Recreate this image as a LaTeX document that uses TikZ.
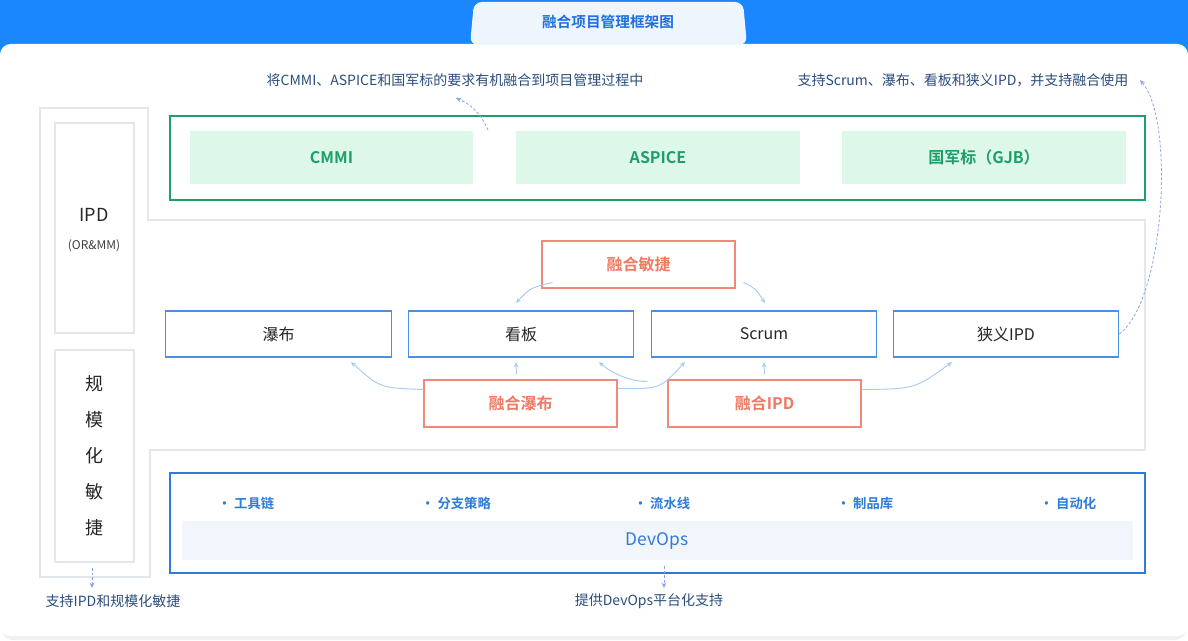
\documentclass[tikz,border=0pt]{standalone}
\usepackage{fontspec}
\setmainfont{Noto Sans CJK SC}
\newfontfamily\cjkb{Noto Sans CJK SC Bold}
\usetikzlibrary{arrows.meta}
\definecolor{bandblue}{HTML}{1A86FF}
\definecolor{ttl}{HTML}{1F6FE0}
\definecolor{gbr}{HTML}{E3E6EA}
\definecolor{grn}{HTML}{1E9E6A}
\definecolor{grnf}{HTML}{DDF8E9}
\definecolor{bbr}{HTML}{4A90E2}
\definecolor{sal}{HTML}{F08A78}
\definecolor{salt}{HTML}{EE7A62}
\definecolor{arr}{HTML}{A9CBF0}
\definecolor{ann}{HTML}{2B4D7C}
\definecolor{dvb}{HTML}{2F7BD8}
\definecolor{dvf}{HTML}{F2F6FC}
\tikzset{
 x=0.75pt,y=-0.75pt,
 gbox/.style={draw=gbr,line width=0.8pt},
 gcell/.style={fill=grnf,text=grn,font=\cjkb\fontsize{12}{14}\selectfont},
 bnode/.style={draw=bbr,line width=0.9pt,fill=white,text=black!85,font=\fontsize{12}{14}\selectfont},
 snode/.style={draw=sal,line width=0.8pt,fill=white,text=salt,font=\cjkb\fontsize{12}{14}\selectfont},
 flow/.style={draw=arr,line width=0.7pt,-{Stealth[length=4pt,width=3.5pt]}},
 dflow/.style={draw=arr!80!blue,line width=0.6pt,dashed,dash pattern=on 2pt off 1.5pt,-{Stealth[length=4pt,width=3.5pt,open]}},
 anno/.style={text=ann,font=\fontsize{10.5}{12}\selectfont},
 bul/.style={text=dvb,font=\cjkb\fontsize{10}{12}\selectfont},
}
\begin{document}
\begin{tikzpicture}
\useasboundingbox (0,0) rectangle (1188,641);
\fill[bandblue] (0,0) rectangle (1188,60);
\fill[gbr!60] (2,50) [rounded corners=8pt] rectangle (1186,640);
\fill[white] [rounded corners=8pt] (0,44) rectangle (1188,636);
\fill[white!93!ttl] [rounded corners=6pt] (470,45) -- (474,2) -- (743,2) -- (747,45) -- cycle;
\node[text=ttl,font=\cjkb\fontsize{11}{13}\selectfont] (title) at (608,22) {融合项目管理框架图};
% outline
\draw[gbox] (40,108) -- (148,108) -- (148,220) -- (1145,220) -- (1145,450) -- (150,450) -- (150,577) -- (40,577) -- cycle;
\draw[gbox] (55,123) rectangle (134,333);
\draw[gbox] (55,350) rectangle (134,562);
\node[font=\fontsize{13.5}{16}\selectfont,text=black!85] (ipd) at (94,215) {IPD};
\node[font=\fontsize{9}{11}\selectfont,text=black!75] (ormm) at (94,246) {(OR\&MM)};
\node[font=\fontsize{13.5}{21}\selectfont,text=black!85,align=center] (gm) at (94,456) {规\\[6pt]模\\[6pt]化\\[6pt]敏\\[6pt]捷};
% green
\draw[grn,line width=0.9pt] (170,116) rectangle (1145,200);
\node[gcell,minimum width=212.25pt,minimum height=39.75pt] (cmmi) at (331.5,157.5) {CMMI};
\node[gcell,minimum width=213pt,minimum height=39.75pt] (aspice) at (658,157.5) {ASPICE};
\node[gcell,minimum width=213pt,minimum height=39.75pt] (gjb) at (984,157.5) {国军标（GJB）};
% middle
\node[bnode,minimum width=169pt,minimum height=34.5pt] (pb) at (278.5,334) {瀑布};
\node[bnode,minimum width=169pt,minimum height=34.5pt] (kb) at (521,334) {看板};
\node[bnode,minimum width=169pt,minimum height=34.5pt] (sc) at (764,334) {Scrum};
\node[bnode,minimum width=169pt,minimum height=34.5pt] (xy) at (1006,334) {狭义IPD};
\node[snode,minimum width=144.75pt,minimum height=35.25pt] (rmj) at (638.5,264.5) {融合敏捷};
\node[snode,minimum width=144.75pt,minimum height=35.25pt] (rpb) at (520.5,403.5) {融合瀑布};
\node[snode,minimum width=144.75pt,minimum height=35.25pt] (ripd) at (764.5,403.5) {融合IPD};
\coordinate (a1) at (516,303); \coordinate (a2) at (765,303);
\draw[flow] (rmj.south west) ++(11,-6) .. controls (530,288) .. (a1);
\draw[flow] (rmj.south east) ++(8,-6) .. controls (755,288) .. (a2);
\draw[flow] (rpb.west) ++(0,-14) .. controls (380,388) .. (351,362);
\draw[flow] (rpb.north) ++(-4,-5) -- (516,362);
\draw[flow] (rpb.north east) ++(0,9) .. controls (660,389) .. (685,362);
\draw[flow] (ripd.north west) ++(-20,2) .. controls (630,382) and (610,372) .. (599,362);
\draw[flow] (ripd.north) ++(0,-5) -- (764,362);
\draw[flow] (ripd.east) ++(0,-14) .. controls (915,389) .. (952,362);
% annotations
\node[anno] (t1) at (455,80) {将CMMI、ASPICE和国军标的要求有机融合到项目管理过程中};
\node[anno] (t2) at (963,80) {支持Scrum、瀑布、看板和狭义IPD，并支持融合使用};
\draw[dflow] (488,130) .. controls (480,112) and (470,104) .. (456,98);
\draw[dflow] (xy.east) .. controls (1165,300) and (1175,120) .. (1140,80);
% devops
\draw[dvb,line width=0.9pt] (170,473) rectangle (1145,573);
\fill[dvf] (182,521) rectangle (1133,560);
\node[text=dvb,font=\fontsize{13}{15}\selectfont] (dev) at (657,541) {DevOps};
\node[bul] at (246,503) {• 工具链};
\node[bul] at (456,503) {• 分支策略};
\node[bul] at (662,503) {• 流水线};
\node[bul] at (865,503) {• 制品库};
\node[bul] at (1068,503) {• 自动化};
\node[anno] (b1) at (113,601) {支持IPD和规模化敏捷};
\node[anno] (b2) at (649,601) {提供DevOps平台化支持};
\draw[dflow] (92,568) -- (92,588);
\draw[dflow] (664,566) -- (664,588);
\end{tikzpicture}
\end{document}
